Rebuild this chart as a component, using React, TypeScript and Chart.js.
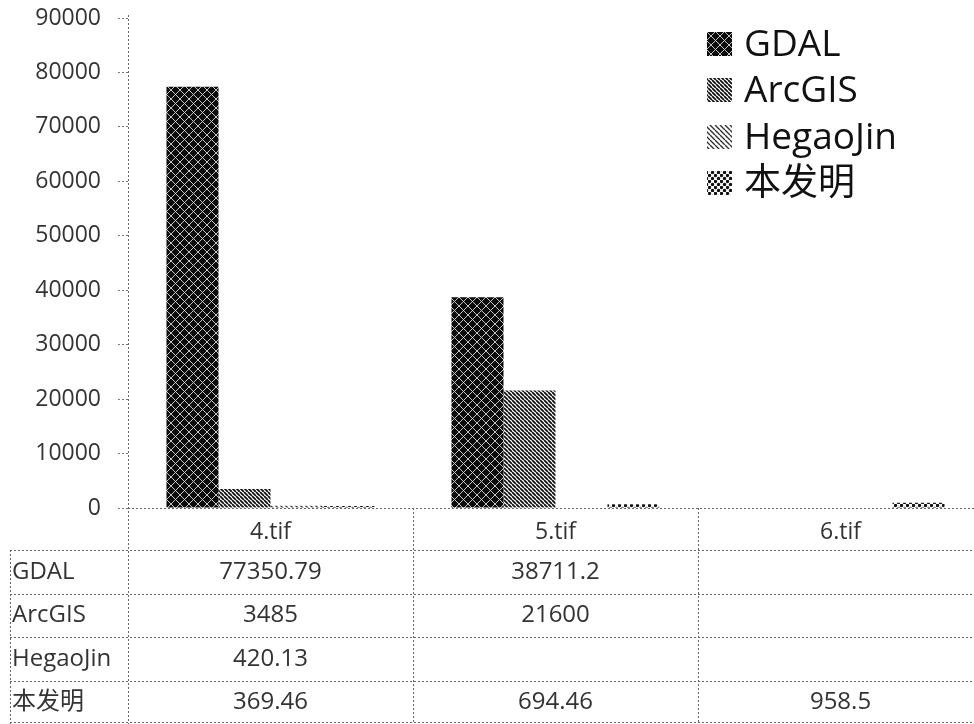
import { useEffect, useRef } from 'react';
import { Chart, registerables } from 'chart.js';

Chart.register(...registerables);

const categories = ['4.tif', '5.tif', '6.tif'];
const seriesNames = ['GDAL', 'ArcGIS', 'HegaoJin', '本发明'];
const gdalValues: (number | null)[] = [77350.79, 38711.2, null];
const arcgisValues: (number | null)[] = [3485, 21600, null];
const hegaojinValues: (number | null)[] = [420.13, null, null];
const benfamingValues: (number | null)[] = [369.46, 694.46, 958.5];
const yMin = 0;
const yMax = 90000;
const yStep = 10000;

const FONT = "'Open Sans', 'Noto Sans CJK SC', sans-serif";

function makeTile(size: number, draw: (c: CanvasRenderingContext2D, s: number) => void): CanvasPattern | string {
  const cv = document.createElement('canvas');
  cv.width = size;
  cv.height = size;
  const c = cv.getContext('2d');
  if (!c) return '#333';
  draw(c, size);
  const p = c.createPattern(cv, 'repeat');
  return p || '#333';
}

function diag(c: CanvasRenderingContext2D, s: number, dir: 'back' | 'fwd') {
  c.beginPath();
  for (let k = -1; k <= 1; k++) {
    if (dir === 'back') {
      c.moveTo(k * s, 0);
      c.lineTo(k * s + s, s);
    } else {
      c.moveTo(k * s, s);
      c.lineTo(k * s + s, 0);
    }
  }
  c.stroke();
}

function makePatterns() {
  const gdal = makeTile(9, (c, s) => {
    c.fillStyle = '#0c0c0c';
    c.fillRect(0, 0, s, s);
    c.strokeStyle = '#d8d8d8';
    c.lineWidth = 0.9;
    diag(c, s, 'fwd');
    diag(c, s, 'back');
  });
  const arcgis = makeTile(4, (c, s) => {
    c.fillStyle = '#fff';
    c.fillRect(0, 0, s, s);
    c.strokeStyle = '#111';
    c.lineWidth = 1.8;
    diag(c, s, 'back');
  });
  const hegao = makeTile(5, (c, s) => {
    c.fillStyle = '#fff';
    c.fillRect(0, 0, s, s);
    c.strokeStyle = '#333';
    c.lineWidth = 1.4;
    diag(c, s, 'back');
  });
  const benfa = makeTile(6, (c, s) => {
    c.fillStyle = '#fff';
    c.fillRect(0, 0, s, s);
    c.fillStyle = '#111';
    c.beginPath();
    c.arc(1.5, 1.5, 1.7, 0, Math.PI * 2);
    c.arc(4.5, 4.5, 1.7, 0, Math.PI * 2);
    c.fill();
    c.beginPath();
    c.arc(4.5 - 6, 4.5, 1.7, 0, Math.PI * 2);
    c.fill();
  });
  return [gdal, arcgis, hegao, benfa];
}

const tablePlugin = {
  id: 'dataTableAndLegend',
  afterDraw(chart: any) {
    const ctx: CanvasRenderingContext2D = chart.ctx;
    const { left, top, bottom } = chart.chartArea;
    const xs = chart.scales.x;
    const stepPx = xs.getPixelForValue(1) - xs.getPixelForValue(0);
    const bounds: number[] = categories.map((_, i) => xs.getPixelForValue(i) - stepPx / 2);
    bounds.push(xs.getPixelForValue(categories.length - 1) + stepPx / 2);
    const headerBottom = xs.bottom;
    const rowH = (chart.height - headerBottom) / seriesNames.length;
    const tableLeft = 10;
    const allSeries = [gdalValues, arcgisValues, hegaojinValues, benfamingValues];

    ctx.save();
    ctx.strokeStyle = '#666';
    ctx.lineWidth = 1;
    ctx.setLineDash([2, 2]);
    const line = (x1: number, y1: number, x2: number, y2: number) => {
      ctx.beginPath();
      ctx.moveTo(x1, y1);
      ctx.lineTo(x2, y2);
      ctx.stroke();
    };
    // axes
    line(left + 0.5, top - 3, left + 0.5, chart.height);
    line(left, bottom + 0.5, chart.width, bottom + 0.5);
    // table horizontal lines
    for (let r = 0; r < seriesNames.length; r++) {
      const y = Math.round(headerBottom + r * rowH) + 0.5;
      line(tableLeft, y, chart.width, y);
    }
    line(tableLeft, chart.height - 1.5, chart.width, chart.height - 1.5);
    // vertical lines
    line(tableLeft + 0.5, headerBottom, tableLeft + 0.5, chart.height);
    for (let i = 1; i < bounds.length; i++) {
      const x = Math.round(bounds[i]) + 0.5;
      line(x, bottom, x, chart.height);
    }
    ctx.setLineDash([]);

    // table text
    ctx.fillStyle = '#333';
    ctx.font = `24px ${FONT}`;
    ctx.textBaseline = 'middle';
    for (let r = 0; r < seriesNames.length; r++) {
      const cy = headerBottom + r * rowH + rowH / 2;
      ctx.textAlign = 'left';
      ctx.fillText(seriesNames[r], tableLeft + 2, cy);
      ctx.textAlign = 'center';
      allSeries[r].forEach((v, i) => {
        if (v === null || v === undefined) return;
        ctx.fillText(String(v), xs.getPixelForValue(i), cy);
      });
    }

    // legend
    const lx = 707;
    const ly = [44, 90, 137, 183];
    ctx.font = `37px ${FONT}`;
    ctx.textAlign = 'left';
    chart.data.datasets.forEach((ds: any, i: number) => {
      ctx.fillStyle = ds.backgroundColor;
      ctx.fillRect(lx, ly[i] - 12, 25, 24);
      ctx.fillStyle = '#111';
      ctx.fillText(ds.label, lx + 37, ly[i] + 1);
    });
    ctx.restore();
  },
};

export default function App() {
  const ref = useRef<HTMLCanvasElement | null>(null);
  useEffect(() => {
    const canvas = ref.current;
    if (!canvas) return;
    const pats = makePatterns();
    const seriesData = [gdalValues, arcgisValues, hegaojinValues, benfamingValues];
    const chart = new Chart(canvas, {
      type: 'bar',
      data: {
        labels: categories,
        datasets: seriesNames.map((name, i) => ({
          label: name,
          data: seriesData[i],
          backgroundColor: pats[i] as any,
          borderWidth: 0,
          categoryPercentage: 0.73,
          barPercentage: 1,
        })),
      },
      options: {
        animation: false,
        responsive: false,
        maintainAspectRatio: false,
        devicePixelRatio: 1,
        layout: { padding: { top: 18, bottom: 174, left: 0, right: 0 } },
        plugins: {
          legend: { display: false },
          tooltip: { enabled: false },
          title: { display: false },
        },
        scales: {
          x: {
            offset: true,
            grid: { display: false },
            border: { display: false },
            ticks: {
              color: '#333',
              font: { family: FONT, size: 23 },
              padding: 3,
              maxRotation: 0,
            },
            afterFit: (scale: any) => {
              scale.height = 42;
              scale.paddingLeft = 0;
              scale.paddingRight = 0;
            },
          },
          y: {
            min: yMin,
            max: yMax,
            grid: {
              display: true,
              drawOnChartArea: false,
              tickLength: 10,
              tickColor: '#777',
              tickBorderDash: [2, 2],
            },
            border: { display: false },
            ticks: {
              stepSize: yStep,
              color: '#333',
              font: { family: FONT, size: 23 },
              padding: 17,
              callback: (v: any) => String(v),
            },
            afterFit: (scale: any) => {
              scale.width = 128;
              scale.paddingTop = 0;
              scale.paddingBottom = 0;
            },
          },
        },
      },
      plugins: [tablePlugin],
    });
    return () => chart.destroy();
  }, []);

  return (
    <div
      style={{
        position: 'fixed',
        left: 0,
        top: 0,
        width: 974,
        height: 724,
        overflow: 'hidden',
        background: '#fff',
      }}
    >
      <canvas ref={ref} width={983} height={724} style={{ display: 'block', width: 983, height: 724 }} />
    </div>
  );
}
